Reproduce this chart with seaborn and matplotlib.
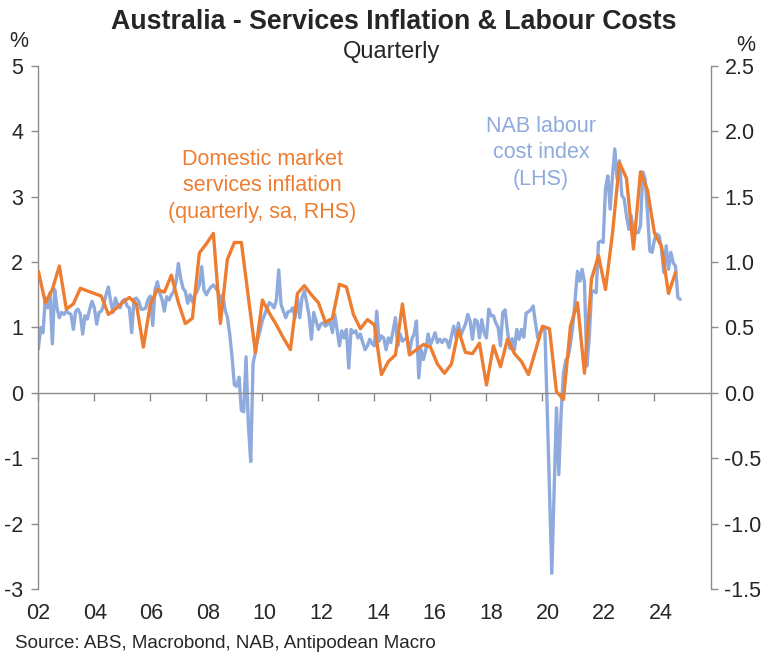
import matplotlib
matplotlib.use("Agg")
import matplotlib.pyplot as plt
import matplotlib.ticker as mticker
import seaborn as sns
import numpy as np

# NAB labour cost index, monthly, % (LHS), Jan 2002 onwards
labour_cost = [
    0.67, 1.0, 0.92, 1.45, 1.3, 1.53, 0.75, 1.58, 1.3, 1.15, 1.23, 1.2,      # 2002
    1.25, 1.22, 1.2, 0.97, 1.25, 1.28, 1.2, 0.9, 1.18, 1.13, 1.28, 1.4,      # 2003
    1.3, 1.05, 1.23, 1.25, 1.35, 1.5, 1.62, 1.4, 1.23, 1.45, 1.35, 1.3,      # 2004
    1.4, 1.43, 1.33, 1.3, 0.92, 1.43, 1.45, 1.4, 1.28, 1.28, 1.3, 1.43,      # 2005
    1.48, 1.03, 1.58, 1.7, 1.53, 1.43, 1.25, 1.47, 1.42, 1.5, 1.55, 1.7,     # 2006
    1.98, 1.75, 1.6, 1.55, 1.37, 1.5, 1.39, 1.5, 1.55, 1.65, 1.93, 1.57,     # 2007
    1.5, 1.57, 1.62, 1.65, 1.6, 1.55, 1.39, 1.5, 1.27, 1.16, 0.9, 0.55,      # 2008
    0.12, 0.1, 0.24, -0.27, -0.29, 0.55, -0.5, -1.05, 0.45, 0.62, 0.83, 0.95,  # 2009
    1.11, 1.2, 1.3, 1.38, 1.35, 1.3, 1.42, 1.88, 1.35, 1.25, 1.15, 1.24,     # 2010
    1.25, 1.3, 1.15, 1.46, 1.15, 1.46, 1.56, 1.38, 1.18, 0.82, 1.23, 1.1,    # 2011
    0.97, 1.05, 1.07, 1.02, 1.05, 1.1, 0.92, 1.2, 0.97, 0.72, 0.95, 0.84,    # 2012
    0.97, 0.38, 0.97, 0.92, 0.95, 0.84, 0.9, 0.77, 0.66, 0.72, 0.82, 0.75,   # 2013
    0.72, 1.25, 0.79, 0.87, 0.84, 0.66, 0.84, 0.77, 0.95, 1.15, 0.72, 0.9,   # 2014
    0.79, 0.82, 0.84, 0.61, 0.82, 0.9, 1.1, 0.23, 0.66, 0.51, 0.66, 0.9,     # 2015
    0.74, 0.82, 0.92, 0.77, 0.82, 0.77, 0.82, 0.8, 0.69, 0.87, 1.02, 0.84,   # 2016
    1.07, 0.87, 0.97, 1.05, 1.2, 1.1, 0.82, 1.12, 1.1, 0.84, 1.12, 0.92,     # 2017
    0.84, 1.28, 1.18, 1.18, 1.07, 1.0, 0.72, 1.23, 1.27, 0.95, 0.68, 0.83,   # 2018
    0.66, 0.97, 0.82, 0.97, 0.85, 1.22, 1.24, 1.27, 1.33, 1.07, 0.84, 0.92,  # 2019
    0.97, 1.0, -0.2, -1.5, -2.76, -1.5, -0.23, -1.25, -0.3, 0.3, 0.5, 0.55,  # 2020
    0.75, 1.02, 1.43, 1.86, 1.71, 1.89, 1.69, 0.41, 0.82, 1.53, 1.56, 1.53,  # 2021
    2.3, 2.32, 2.3, 3.12, 3.32, 2.81, 3.32, 3.73, 3.27, 3.55, 3.02, 2.97,    # 2022
    2.71, 2.5, 2.71, 2.45, 2.45, 2.45, 2.56, 3.38, 3.27, 2.76, 2.17, 2.15,   # 2023
    2.35, 2.43, 2.4, 2.2, 1.84, 2.25, 1.89, 2.15, 1.99, 1.94, 1.46, 1.43,    # 2024
]

# Domestic market services inflation, quarterly % sa (RHS), from end-2001
services_infl = [
    0.93, 0.69, 0.79, 0.97, 0.64, 0.68, 0.80, 0.78, 0.76, 0.74,
    0.60, 0.64, 0.69, 0.73, 0.68, 0.35, 0.68, 0.79, 0.77, 0.90,
    0.69, 0.53, 0.57, 1.07, 1.14, 1.22, 0.53, 1.02, 1.15, 1.15,
    0.73, 0.31, 0.71, 0.61, 0.52, 0.42, 0.33, 0.76, 0.82, 0.75,
    0.69, 0.54, 0.57, 0.83, 0.81, 0.60, 0.49, 0.56, 0.52, 0.14,
    0.24, 0.29, 0.68, 0.29, 0.33, 0.37, 0.35, 0.22, 0.15, 0.22,
    0.48, 0.31, 0.30, 0.38, 0.06, 0.36, 0.20, 0.41, 0.30, 0.24,
    0.14, 0.32, 0.51, 0.49, 0.01, -0.05, 0.51, 0.69, 0.15, 0.87,
    1.05, 0.79, 1.22, 1.76, 1.64, 1.10, 1.69, 1.55, 1.22, 1.12,
    0.76, 0.92,
]

year_ticks = list(range(2002, 2025, 2))
year_labels = [f"{y % 100:02d}" for y in year_ticks]

t_labour = 2002 + np.arange(len(labour_cost)) / 12
t_services = 2002 + np.arange(len(services_infl)) / 4

BLUE = "#8FAADC"
ORANGE = "#ED7D31"
GREY = "#8C8C8C"

sns.set_theme(style="white")
plt.rcParams["font.family"] = ["Liberation Sans", "DejaVu Sans"]
plt.rcParams["axes.unicode_minus"] = False

fig = plt.figure(figsize=(7.76, 6.63), dpi=100)
ax = fig.add_axes([0.0494, 0.1116, 0.8662, 0.7889])
ax2 = ax.twinx()

sns.lineplot(x=t_labour, y=labour_cost, ax=ax, color=BLUE, lw=2.4)
sns.lineplot(x=t_services, y=services_infl, ax=ax2, color=ORANGE, lw=2.4)

ax.set_xlim(2002, 2026)
ax.set_ylim(-3, 5)
ax2.set_ylim(-1.5, 2.5)

# spines
for s in ["top", "right"]:
    ax.spines[s].set_visible(False)
for s in ["top", "left", "bottom"]:
    ax2.spines[s].set_visible(False)
ax.spines["left"].set_color(GREY)
ax2.spines["right"].set_color(GREY)
ax.spines["bottom"].set_position(("data", 0))
ax.spines["bottom"].set_color(GREY)
for sp in [ax.spines["left"], ax.spines["bottom"], ax2.spines["right"]]:
    sp.set_linewidth(1.0)

# y ticks
ax.set_yticks(range(-3, 6))
ax.yaxis.set_major_formatter(mticker.FormatStrFormatter("%d"))
ax.tick_params(axis="y", direction="out", length=5, width=1, color=GREY,
               labelsize=15.5, pad=6, left=True)
ax2.set_yticks(np.arange(-1.5, 2.6, 0.5))
ax2.yaxis.set_major_formatter(mticker.FormatStrFormatter("%.1f"))
ax2.tick_params(axis="y", direction="out", length=5, width=1, color=GREY,
                labelsize=15.5, pad=5, right=True)

# x ticks on the zero line, labels along the bottom (labels sit a touch
# to the right of the ticks in the original, drifting with time)
ax.set_xticks(year_ticks)
ax.tick_params(axis="x", direction="out", length=6, width=1, color=GREY,
               labelbottom=False, bottom=True)
sec = ax.secondary_xaxis(0, functions=(lambda x: 2002 + (x - 2002) * 0.99,
                                       lambda x: 2002 + (x - 2002) / 0.99))
sec.set_xticks(year_ticks, year_labels)
sec.tick_params(axis="x", length=0, labelsize=15.5, pad=10)
sec.spines["bottom"].set_visible(False)

ax.set_xlabel("")
ax.set_ylabel("")
ax2.set_ylabel("")
ax.grid(False)
ax2.grid(False)

# annotations
ax.text(0.333, 0.771, "Domestic market\nservices inflation\n(quarterly, sa, RHS)",
        transform=ax.transAxes, ha="center", va="center", color=ORANGE,
        fontsize=15.5, linespacing=1.35)
ax.text(0.748, 0.834, "NAB labour\ncost index\n(LHS)",
        transform=ax.transAxes, ha="center", va="center", color=BLUE,
        fontsize=15.5, linespacing=1.35)

fig.text(0.508, 0.967, "Australia - Services Inflation & Labour Costs",
         ha="center", va="center", fontsize=19.3, fontweight="bold")
fig.text(0.505, 0.921, "Quarterly", ha="center", va="center", fontsize=17)
fig.text(0.024, 0.937, "%", ha="center", va="center", fontsize=15.5)
fig.text(0.961, 0.932, "%", ha="center", va="center", fontsize=15.5)
fig.text(0.019, 0.030, "Source: ABS, Macrobond, NAB, Antipodean Macro",
         ha="left", va="center", fontsize=13.5)

fig.savefig("out.png", dpi=100)
